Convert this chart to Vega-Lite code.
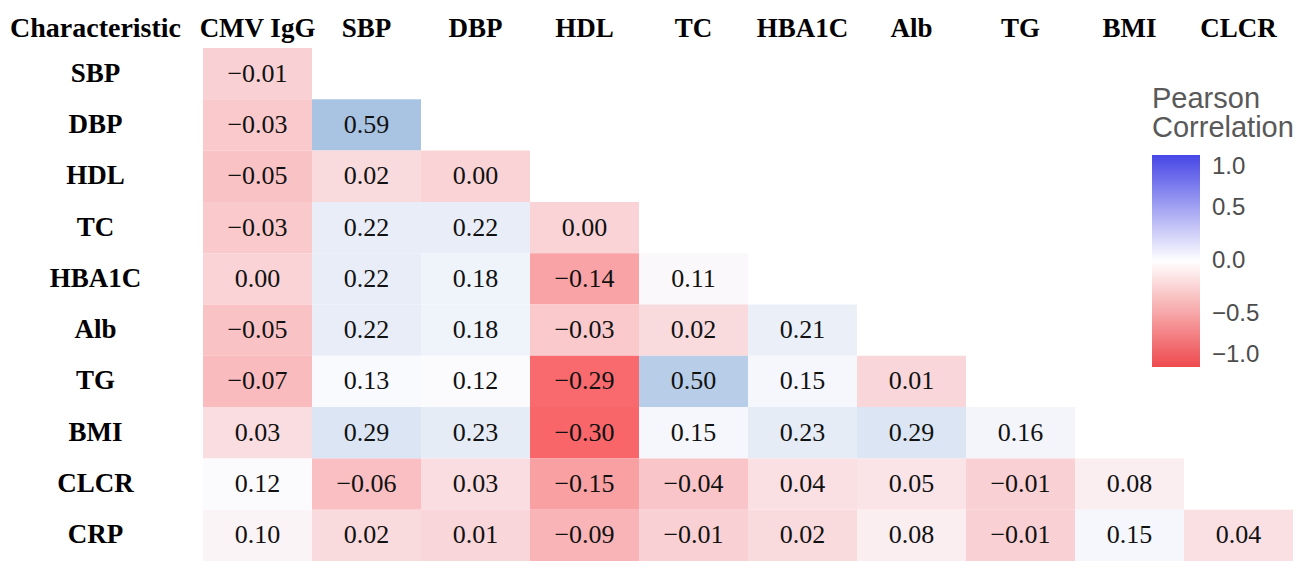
{
  "$schema": "https://vega.github.io/schema/vega-lite/v6.json",
  "width": 1090,
  "height": 513,
  "autosize": {"type": "none"},
  "padding": {"left": 203, "top": 48, "right": 6, "bottom": 0},
  "background": "white",
  "config": {"view": {"stroke": null}},
  "data": {
    "values": [
      {"row": "SBP", "col": "CMV IgG", "r": -0.01},
      {"row": "DBP", "col": "CMV IgG", "r": -0.03},
      {"row": "HDL", "col": "CMV IgG", "r": -0.05},
      {"row": "TC", "col": "CMV IgG", "r": -0.03},
      {"row": "HBA1C", "col": "CMV IgG", "r": 0.00},
      {"row": "Alb", "col": "CMV IgG", "r": -0.05},
      {"row": "TG", "col": "CMV IgG", "r": -0.07},
      {"row": "BMI", "col": "CMV IgG", "r": 0.03},
      {"row": "CLCR", "col": "CMV IgG", "r": 0.12},
      {"row": "CRP", "col": "CMV IgG", "r": 0.10},
      {"row": "DBP", "col": "SBP", "r": 0.59},
      {"row": "HDL", "col": "SBP", "r": 0.02},
      {"row": "TC", "col": "SBP", "r": 0.22},
      {"row": "HBA1C", "col": "SBP", "r": 0.22},
      {"row": "Alb", "col": "SBP", "r": 0.22},
      {"row": "TG", "col": "SBP", "r": 0.13},
      {"row": "BMI", "col": "SBP", "r": 0.29},
      {"row": "CLCR", "col": "SBP", "r": -0.06},
      {"row": "CRP", "col": "SBP", "r": 0.02},
      {"row": "HDL", "col": "DBP", "r": 0.00},
      {"row": "TC", "col": "DBP", "r": 0.22},
      {"row": "HBA1C", "col": "DBP", "r": 0.18},
      {"row": "Alb", "col": "DBP", "r": 0.18},
      {"row": "TG", "col": "DBP", "r": 0.12},
      {"row": "BMI", "col": "DBP", "r": 0.23},
      {"row": "CLCR", "col": "DBP", "r": 0.03},
      {"row": "CRP", "col": "DBP", "r": 0.01},
      {"row": "TC", "col": "HDL", "r": 0.00},
      {"row": "HBA1C", "col": "HDL", "r": -0.14},
      {"row": "Alb", "col": "HDL", "r": -0.03},
      {"row": "TG", "col": "HDL", "r": -0.29},
      {"row": "BMI", "col": "HDL", "r": -0.30},
      {"row": "CLCR", "col": "HDL", "r": -0.15},
      {"row": "CRP", "col": "HDL", "r": -0.09},
      {"row": "HBA1C", "col": "TC", "r": 0.11},
      {"row": "Alb", "col": "TC", "r": 0.02},
      {"row": "TG", "col": "TC", "r": 0.50},
      {"row": "BMI", "col": "TC", "r": 0.15},
      {"row": "CLCR", "col": "TC", "r": -0.04},
      {"row": "CRP", "col": "TC", "r": -0.01},
      {"row": "Alb", "col": "HBA1C", "r": 0.21},
      {"row": "TG", "col": "HBA1C", "r": 0.15},
      {"row": "BMI", "col": "HBA1C", "r": 0.23},
      {"row": "CLCR", "col": "HBA1C", "r": 0.04},
      {"row": "CRP", "col": "HBA1C", "r": 0.02},
      {"row": "TG", "col": "Alb", "r": 0.01},
      {"row": "BMI", "col": "Alb", "r": 0.29},
      {"row": "CLCR", "col": "Alb", "r": 0.05},
      {"row": "CRP", "col": "Alb", "r": 0.08},
      {"row": "BMI", "col": "TG", "r": 0.16},
      {"row": "CLCR", "col": "TG", "r": -0.01},
      {"row": "CRP", "col": "TG", "r": -0.01},
      {"row": "CLCR", "col": "BMI", "r": 0.08},
      {"row": "CRP", "col": "BMI", "r": 0.15},
      {"row": "CRP", "col": "CLCR", "r": 0.04}
    ]
  },
  "layer": [
    {
      "mark": {"type": "rect"},
      "encoding": {
        "x": {
          "field": "col", "type": "nominal",
          "sort": ["CMV IgG", "SBP", "DBP", "HDL", "TC", "HBA1C", "Alb", "TG", "BMI", "CLCR"],
          "scale": {"paddingInner": 0, "paddingOuter": 0},
          "axis": {
            "orient": "top", "title": null, "ticks": false, "domain": false, "labelAngle": 0,
            "labelFont": "Liberation Serif", "labelFontWeight": "bold", "labelFontSize": 27,
            "labelColor": "#000000", "labelPadding": 6, "labelLimit": 300
          }
        },
        "y": {
          "field": "row", "type": "nominal",
          "sort": ["SBP", "DBP", "HDL", "TC", "HBA1C", "Alb", "TG", "BMI", "CLCR", "CRP"],
          "scale": {"paddingInner": 0, "paddingOuter": 0},
          "axis": {
            "ticks": false, "domain": false,
            "labelFont": "Liberation Serif", "labelFontWeight": "bold", "labelFontSize": 27,
            "labelColor": "#000000", "labelAlign": "center", "labelPadding": 108,
            "title": "Characteristic", "titleAngle": 0, "titleAlign": "center", "titleBaseline": "middle",
            "titleX": -108, "titleY": -20, "titleFont": "Liberation Serif", "titleFontWeight": "bold",
            "titleFontSize": 28, "titleColor": "#000000"
          }
        },
        "fill": {
          "field": "r", "type": "quantitative", "legend": null,
          "scale": {
            "type": "linear", "interpolate": "rgb",
            "domain": [-0.30, -0.15, 0, 0.12, 0.25, 0.59],
            "range": ["#f8666a", "#f9a0a3", "#f9d3d6", "#fbfbfe", "#e2e9f5", "#a9c3e2"]
          }
        }
      }
    },
    {
      "mark": {"type": "text", "font": "Liberation Serif", "fontSize": 26, "color": "#111111", "baseline": "middle"},
      "encoding": {
        "x": {"field": "col", "type": "nominal", "sort": ["CMV IgG", "SBP", "DBP", "HDL", "TC", "HBA1C", "Alb", "TG", "BMI", "CLCR"]},
        "y": {"field": "row", "type": "nominal", "sort": ["SBP", "DBP", "HDL", "TC", "HBA1C", "Alb", "TG", "BMI", "CLCR", "CRP"]},
        "text": {"field": "r", "type": "quantitative", "format": ".2f"}
      }
    },
    {
      "data": {"values": [{"v": -1}, {"v": 1}]},
      "mark": {"type": "point", "size": 0, "filled": true, "strokeWidth": 0, "opacity": 1},
      "encoding": {
        "color": {
          "field": "v", "type": "quantitative",
          "scale": {"domain": [-1, 0, 1], "range": ["#ee4a4e", "#ffffff", "#4646e6"], "interpolate": "rgb"},
          "legend": {
            "orient": "none", "legendX": 949, "legendY": 37, "direction": "vertical",
            "title": ["Pearson", "Correlation"], "titleFont": "Liberation Sans", "titleFontWeight": "normal",
            "titleFontSize": 29, "titleColor": "#595959", "titleLineHeight": 29, "titlePadding": 12,
            "gradientLength": 212, "gradientThickness": 48, "gradientStrokeWidth": 0, "gradientOpacity": 1,
            "values": [-1, -0.5, 0, 0.5, 1], "format": ".1f",
            "labelFont": "Liberation Sans", "labelFontSize": 24, "labelColor": "#4d4d4d", "labelOffset": 12
          }
        }
      }
    }
  ]
}
